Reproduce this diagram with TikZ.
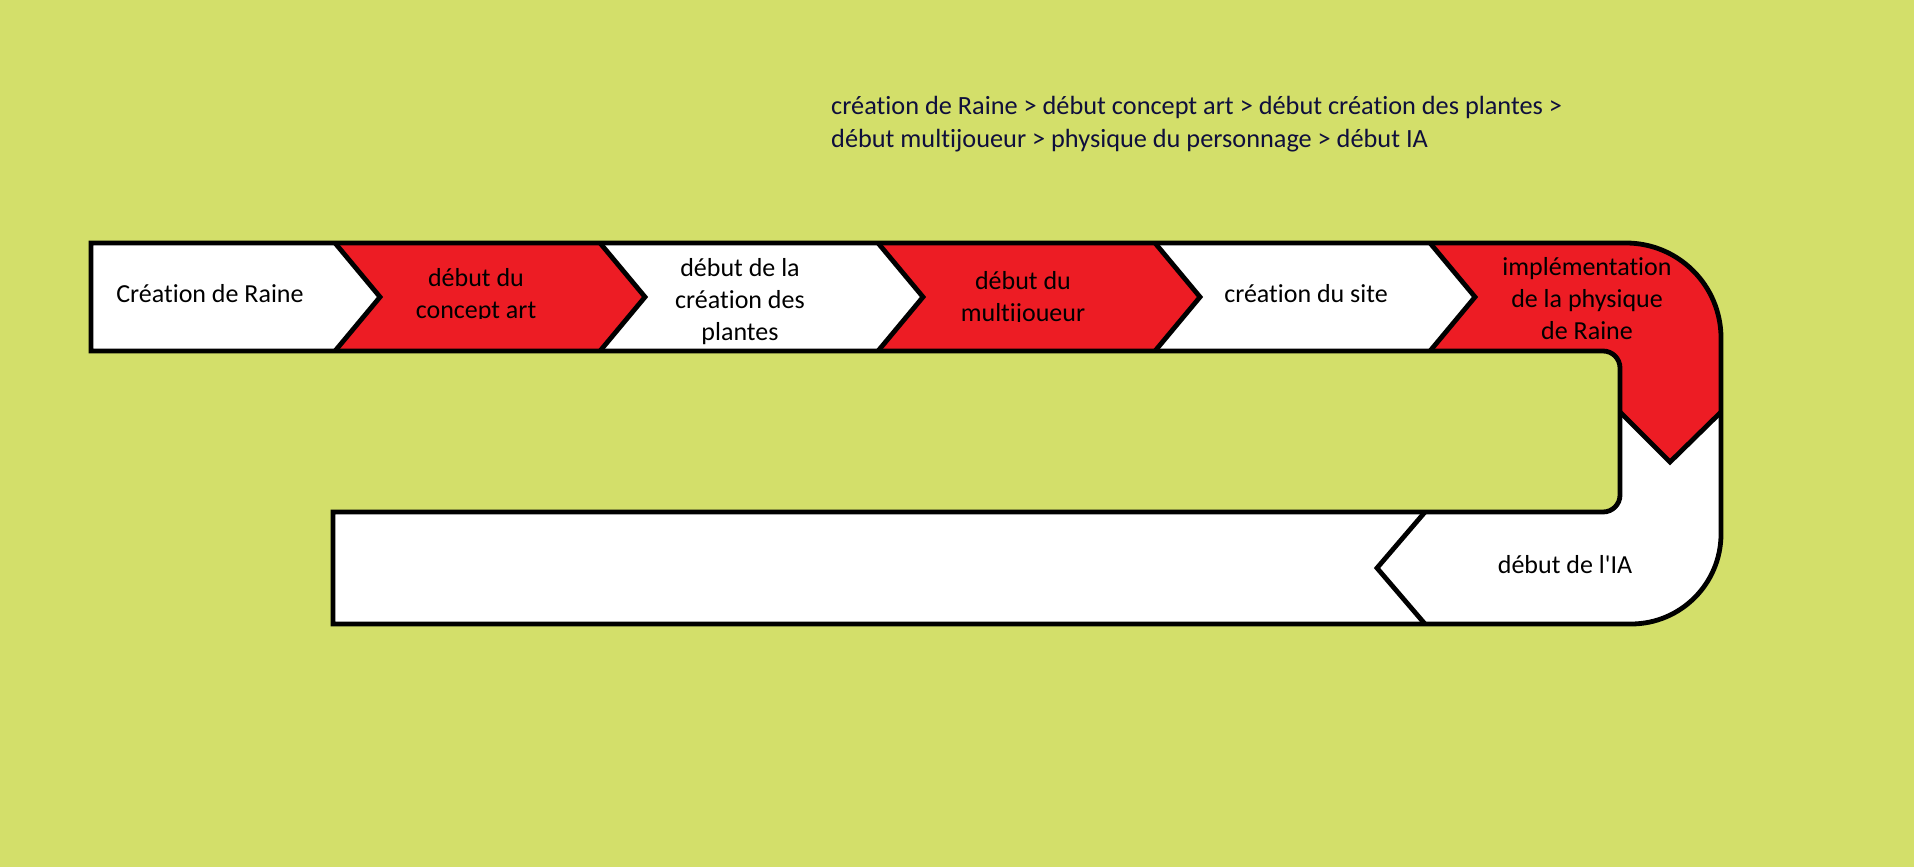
\documentclass[tikz,border=0pt]{standalone}
\usepackage{fontspec}
\setmainfont{Carlito}[Ligatures={TeXOff,NoCommon}]
\definecolor{bg}{RGB}{211,223,106}
\definecolor{segred}{RGB}{237,28,36}
\definecolor{navy}{RGB}{15,15,60}
\begin{document}
\begin{tikzpicture}[x=1pt,y=1pt,
  seg/.style={line width=4.8pt,line join=miter},
  lbl/.style={align=center,font=\fontsize{26}{32}\selectfont,text=black,inner sep=0pt},
  toplbl/.style={align=left,font=\fontsize{26.3}{33}\selectfont,text=navy,inner sep=0pt}]
\fill[bg] (0,0) rectangle (1914,-867);
\useasboundingbox (0,0) rectangle (1914,-867);
% band geometry
\def\T{-243}\def\B{-351}\def\M{-297}
% segments fill
\fill[white] (91,\T) -- (335,\T) -- (380,\M) -- (335,\B) -- (91,\B) -- cycle;
\fill[segred] (335,\T) -- (600,\T) -- (645,\M) -- (600,\B) -- (335,\B) -- (380,\M) -- cycle;
\fill[white] (600,\T) -- (878,\T) -- (923,\M) -- (878,\B) -- (600,\B) -- (645,\M) -- cycle;
\fill[segred] (878,\T) -- (1155,\T) -- (1200,\M) -- (1155,\B) -- (878,\B) -- (923,\M) -- cycle;
\fill[white] (1155,\T) -- (1430,\T) -- (1475,\M) -- (1430,\B) -- (1155,\B) -- (1200,\M) -- cycle;
\fill[segred] (1430,\T) -- (1626,\T) arc[start angle=90,end angle=0,radius=95] -- (1721,-412) -- (1670,-462) -- (1620,-412) -- (1620,-368) arc[start angle=0,end angle=90,radius=17] -- (1430,\B) -- (1475,\M) -- cycle;
\fill[white] (1620,-412) -- (1670,-462) -- (1721,-412) -- (1721,-534) arc[start angle=0,end angle=-90,radius=90] -- (1425,-624) -- (1377,-568) -- (1425,-512) -- (1603,-512) arc[start angle=-90,end angle=0,radius=17] -- cycle;
\fill[white] (333,-512) -- (1425,-512) -- (1377,-568) -- (1425,-624) -- (333,-624) -- cycle;
% labels (some clipped at the bottom, as in the original text boxes)
\node[lbl] (s1) at (210,-294) {Création de Raine};
\begin{scope}
\clip (340,-250) rectangle (620,-318);
\node[lbl] (s2) at (476,-296) {début du\\concept art};
\end{scope}
\begin{scope}
\clip (600,-246) rectangle (900,-347);
\node[lbl] (s3) at (740,-302) {début de la\\création des\\plantes};
\end{scope}
\begin{scope}
\clip (880,-250) rectangle (1180,-321);
\node[lbl] (s4) at (1023,-299) {début du\\multijoueur};
\end{scope}
\node[lbl] (s5) at (1306,-294) {création du site};
\node[lbl] (s6) at (1587,-299) {implémentation\\de la physique\\de Raine};
\node[lbl] (s7) at (1565,-565) {début de l'IA};
\node[toplbl,anchor=west] (summary) at (831,-124) {création de Raine > début concept art > début création des plantes >\\début multijoueur > physique du personnage > début IA};
% outline
\draw[seg] (91,\T) -- (1626,\T) arc[start angle=90,end angle=0,radius=95] -- (1721,-534) arc[start angle=0,end angle=-90,radius=90] -- (333,-624) -- (333,-512) -- (1603,-512) arc[start angle=-90,end angle=0,radius=17] -- (1620,-368) arc[start angle=0,end angle=90,radius=17] -- (91,\B) -- cycle;
% separators
\draw[seg] (335,\T) -- (380,\M) -- (335,\B);
\draw[seg] (600,\T) -- (645,\M) -- (600,\B);
\draw[seg] (878,\T) -- (923,\M) -- (878,\B);
\draw[seg] (1155,\T) -- (1200,\M) -- (1155,\B);
\draw[seg] (1430,\T) -- (1475,\M) -- (1430,\B);
\draw[seg] (1620,-412) -- (1670,-462) -- (1721,-412);
\draw[seg] (1425,-512) -- (1377,-568) -- (1425,-624);
\end{tikzpicture}
\end{document}
